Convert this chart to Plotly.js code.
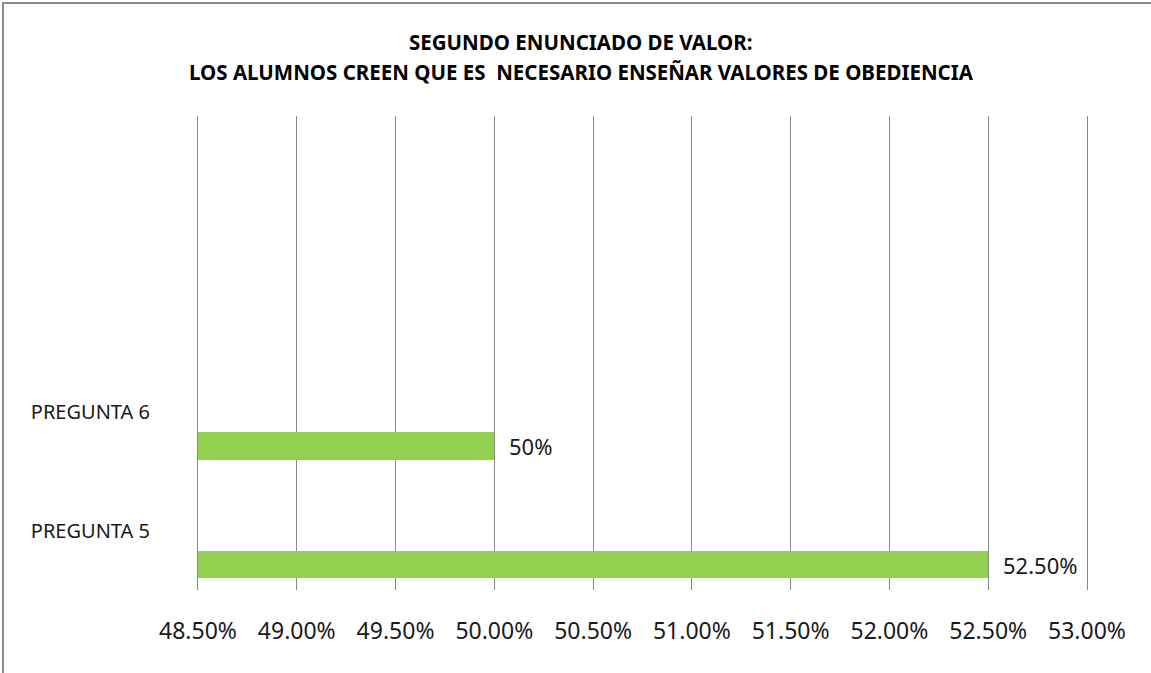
<!DOCTYPE html>
<html>
<head>
<meta charset="utf-8">
<script src="https://cdn.plot.ly/plotly-3.0.1.min.js"></script>
<style>
  html, body { margin: 0; padding: 0; background: #fff; }
  #wrap { position: relative; width: 1151px; height: 673px; }
  #chart { width: 1151px; height: 673px; }
  #frame { position: absolute; left: 2px; top: 2px; width: 1160px; height: 700px;
           border-left: 2px solid #8c8c8c; border-top: 2px solid #8c8c8c; pointer-events: none; }
</style>
</head>
<body>
<div id="wrap">
  <div id="chart"></div>
  <div id="frame"></div>
</div>
<script>
// ---- data ----
const categories = ["PREGUNTA 5", "PREGUNTA 6"];
const emptyCategories = [" ", "  "];
const values = [0.525, 0.50];
const valueLabels = ["52.50%", "50%"];
const xTickMin = 0.485;
const xTickMax = 0.53;
const xTickStep = 0.005;

const titleLines = ["SEGUNDO ENUNCIADO DE VALOR:", "LOS ALUMNOS CREEN QUE ES  NECESARIO ENSEÑAR VALORES DE OBEDIENCIA"];

const font = "'Noto Sans', 'Open Sans', sans-serif";
const barColor = "#92D050";
const gridColor = "#8a8a8a";

const trace = {
  type: "bar",
  orientation: "h",
  x: values,
  y: categories,
  marker: { color: barColor, line: { width: 0 } },
  width: 0.23,
  offset: -0.4,
  hoverinfo: "skip",
  showlegend: false
};

const annotations = values.map((v, i) => ({
  x: v,
  y: categories[i],
  xref: "x",
  yref: "y",
  text: valueLabels[i],
  showarrow: false,
  xanchor: "left",
  yanchor: "middle",
  xshift: 13,
  yshift: -34,
  font: { family: font, size: 22, color: "#1a1a1a" }
}));

const titleShifts = [74, 44];
titleLines.forEach((line, i) => {
  annotations.push({
    xref: "paper", yref: "paper",
    x: 0.431, xanchor: "center",
    y: 1, yanchor: "middle",
    yshift: titleShifts[i],
    showarrow: false,
    text: "<b>" + line + "</b>",
    font: { family: font, size: 20.5, color: "#000" }
  });
});

const layout = {
  width: 1151,
  height: 673,
  margin: { l: 198, r: 64, t: 116, b: 83 },
  paper_bgcolor: "#fff",
  plot_bgcolor: "#fff",
  xaxis: {
    range: [xTickMin, xTickMax],
    dtick: xTickStep,
    tick0: xTickMin,
    tickformat: ".2%",
    showgrid: true,
    gridcolor: gridColor,
    gridwidth: 1,
    zeroline: false,
    showline: false,
    ticks: "",
    ticklabelstandoff: 25,
    tickfont: { family: font, size: 23, color: "#1a1a1a" },
    fixedrange: true
  },
  yaxis: {
    type: "category",
    categoryorder: "array",
    categoryarray: categories.concat(emptyCategories),
    range: [-0.5, 3.5],
    showgrid: false,
    zeroline: false,
    showline: true,
    linecolor: gridColor,
    linewidth: 1,
    mirror: true,
    ticks: "",
    ticklabelstandoff: 43,
    tickfont: { family: font, size: 20, color: "#1a1a1a" },
    fixedrange: true
  },
  annotations: annotations,
  bargap: 0
};

Plotly.newPlot("chart", [trace], layout, { staticPlot: true, displayModeBar: false });
</script>
</body>
</html>
